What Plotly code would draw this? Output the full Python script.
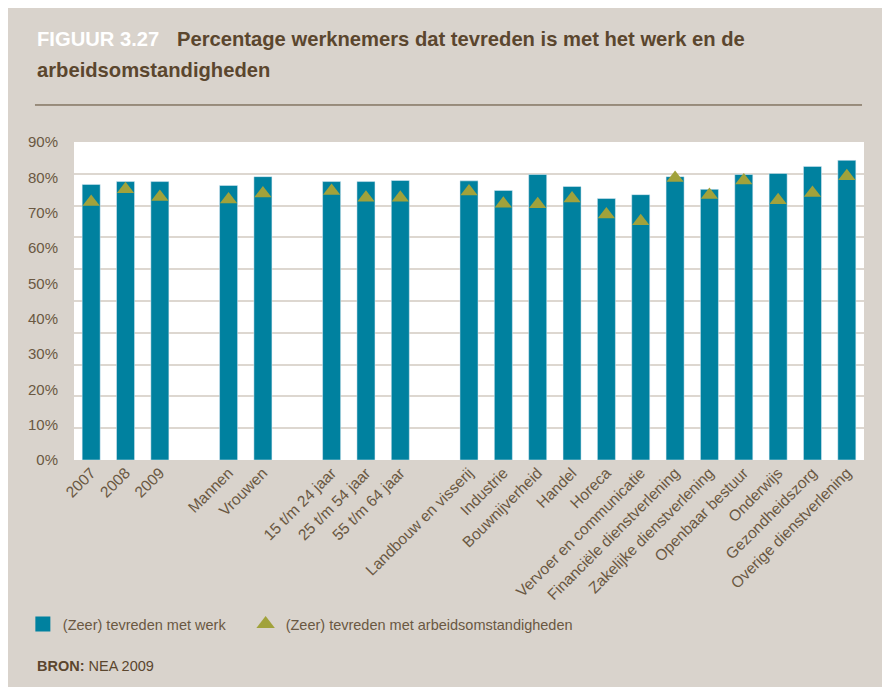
import plotly.graph_objects as go

# categorieen (lege namen zijn scheiding tussen de groepen)
categories = ["2007", "2008", "2009", " ",
              "Mannen", "Vrouwen", "  ",
              "15 t/m 24 jaar", "25 t/m 54 jaar", "55 t/m 64 jaar", "   ",
              "Landbouw en visserij", "Industrie", "Bouwnijverheid", "Handel",
              "Horeca", "Vervoer en communicatie", "Financiële dienstverlening",
              "Zakelijke dienstverlening", "Openbaar bestuur", "Onderwijs",
              "Gezondheidszorg", "Overige dienstverlening"]

# (zeer) tevreden met werk, %
werk = [78.0, 78.8, 78.8, None,
        77.7, 80.2, None,
        78.8, 78.8, 79.1, None,
        79.0, 76.3, 80.8, 77.4, 74.0, 75.1, 80.2, 76.6, 80.8, 81.1, 83.1, 84.8]

# (zeer) tevreden met arbeidsomstandigheden, %
omstandigheden = [73.0, 76.6, 74.4, None,
                  73.7, 75.4, None,
                  76.1, 74.2, 74.2, None,
                  76.0, 72.5, 72.4, 74.0, 69.5, 67.6, 79.8, 75.0, 79.1, 73.5, 75.6, 80.3]

BG = "#d9d3cc"
BLUE = "#00819f"
OLIVE = "#a1a23b"
BROWN = "#5b462e"
TXT = "#6a5842"

fig = go.Figure()

fig.add_trace(go.Bar(x=categories, y=werk, marker_color=BLUE, showlegend=False,
                     name="(Zeer) tevreden met werk"))
fig.add_trace(go.Scatter(x=categories, y=omstandigheden, mode="markers", showlegend=False,
                         marker=dict(symbol="triangle-up", size=15, color=OLIVE),
                         name="(Zeer) tevreden met arbeidsomstandigheden"))

# alleen voor de legenda (op y2 zodat die as ook getekend wordt)
fig.add_trace(go.Scatter(x=[None], y=[None], yaxis="y2", mode="markers",
                         name="(Zeer) tevreden met werk\u00a0\u00a0\u00a0\u2009",
                         marker=dict(symbol="square", size=15, color=BLUE)))
fig.add_trace(go.Scatter(x=[None], y=[None], yaxis="y2", mode="markers",
                         name="(Zeer) tevreden met arbeidsomstandigheden",
                         marker=dict(symbol="triangle-up", size=16, color=OLIVE)))

fig.update_layout(
    width=890, height=687,
    margin=dict(l=66, r=34, t=134, b=235, autoexpand=False),
    paper_bgcolor=BG, plot_bgcolor="white",
    bargap=0.475,
    font=dict(family="Liberation Sans, Arial, sans-serif", size=15, color=TXT),
    xaxis=dict(type="category", range=[-0.5, len(categories) - 0.5], tickangle=-45,
               showgrid=False, zeroline=False, automargin=False,
               ticks="", tickfont=dict(size=15.5, color=TXT)),
    yaxis=dict(range=[0, 90], dtick=10, ticksuffix="%", showgrid=False, zeroline=False,
               automargin=False, ticks="", ticklabelstandoff=15,
               tickfont=dict(size=15, color=TXT)),
    # rasterlijnen liggen in het origineel op tienden van de hoogte
    yaxis2=dict(overlaying="y", range=[0, 10], dtick=1, showticklabels=False,
                showgrid=True, gridcolor="#ddd7d0", gridwidth=2, zeroline=False,
                automargin=False),
    legend=dict(orientation="h", xref="container", yref="container", x=0.0167, y=0.1033,
                xanchor="left", yanchor="middle",
                font=dict(size=14.5, color=TXT), bgcolor="rgba(0,0,0,0)"),
)

fig.add_annotation(text="<b>FIGUUR 3.27</b>", xref="paper", yref="paper", x=-0.0494, y=1.324,
                   xanchor="left", yanchor="middle", showarrow=False,
                   font=dict(size=20.2, color="white"))
fig.add_annotation(text="<b>Percentage werknemers dat tevreden is met het werk en de</b>",
                   xref="paper", yref="paper", x=0.128, y=1.324,
                   xanchor="left", yanchor="middle", showarrow=False,
                   font=dict(size=20.2, color=BROWN))
fig.add_annotation(text="<b>arbeidsomstandigheden</b>", xref="paper", yref="paper",
                   x=-0.0494, y=1.2264, xanchor="left", yanchor="middle", showarrow=False,
                   font=dict(size=20.2, color=BROWN))
fig.add_annotation(text="<b>BRON:</b> NEA 2009", xref="paper", yref="paper",
                   x=-0.0494, y=-0.647, xanchor="left", yanchor="middle", showarrow=False,
                   font=dict(size=14.5, color=BROWN))

fig.add_shape(type="line", xref="paper", yref="paper", x0=-0.0494, x1=0.9975,
              y0=1.1164, y1=1.1164, line=dict(color=BROWN, width=1))

fig.write_html("out.html")
